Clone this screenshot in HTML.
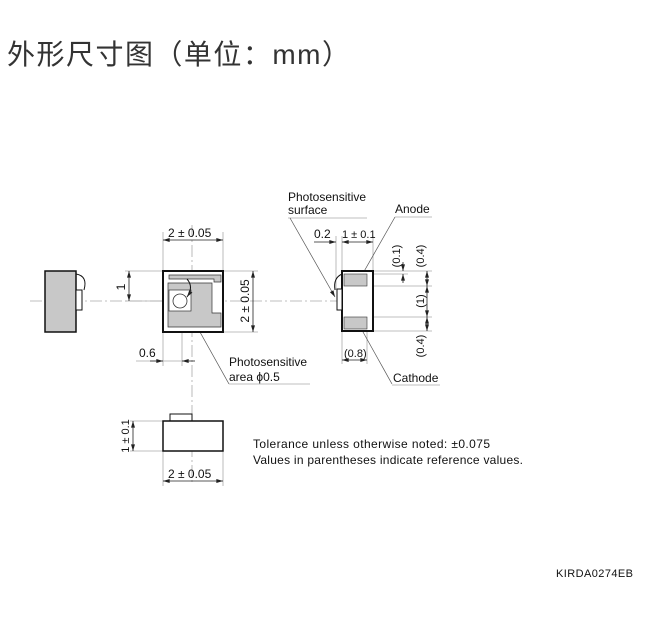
<!DOCTYPE html>
<html><head><meta charset="utf-8"><style>
body{margin:0;background:#fff;width:662px;height:625px;overflow:hidden}
svg{position:absolute;left:0;top:0}
text{font-family:"Liberation Sans",sans-serif;fill:#111}
</style></head><body>
<svg width="662" height="625" viewBox="0 0 662 625">
<defs>
<marker id="a" viewBox="0 0 10 6" refX="10" refY="3" markerWidth="7" markerHeight="4" orient="auto-start-reverse" markerUnits="userSpaceOnUse"><path d="M0,0L10,3L0,6z" fill="#222"/></marker>
</defs>
<text x="7" y="64" style="font-family:'Liberation Sans','Noto Sans CJK SC',sans-serif;font-size:28px;fill:#333" textLength="343">外形尺寸图（单位：mm）</text>

<g stroke="#aaa" stroke-width="0.8" fill="none">
<line x1="30" y1="301" x2="340" y2="301" stroke-dasharray="12,3,2,3"/>
<line x1="192" y1="225" x2="192" y2="485" stroke-dasharray="12,3,2,3"/>
<!-- extension lines -->
<line x1="163" y1="232" x2="163" y2="271"/><line x1="223" y1="232" x2="223" y2="271"/>
<line x1="125" y1="271" x2="163" y2="271"/><line x1="125" y1="301" x2="163" y2="301"/>
<line x1="223" y1="271" x2="258" y2="271"/><line x1="223" y1="332" x2="258" y2="332"/>
<line x1="163" y1="332" x2="163" y2="366"/><line x1="182" y1="313" x2="182" y2="366"/>
<line x1="130" y1="421" x2="163" y2="421"/><line x1="130" y1="451" x2="163" y2="451"/>
<line x1="163" y1="451" x2="163" y2="486"/><line x1="223" y1="451" x2="223" y2="486"/>
<line x1="336" y1="236" x2="336" y2="290"/><line x1="342" y1="236" x2="342" y2="271"/><line x1="373" y1="236" x2="373" y2="271"/>
<line x1="373" y1="271" x2="432" y2="271"/><line x1="367" y1="274" x2="408" y2="274"/><line x1="367" y1="286" x2="432" y2="286"/>
<line x1="367" y1="317" x2="432" y2="317"/><line x1="373" y1="331" x2="432" y2="331"/>
<line x1="342" y1="331" x2="342" y2="364"/><line x1="367" y1="329" x2="367" y2="364"/>
<line x1="288" y1="218" x2="367" y2="218"/><line x1="395" y1="217" x2="432" y2="217"/>
<line x1="229" y1="384" x2="310" y2="384"/><line x1="392" y1="385" x2="440" y2="385"/>
<line x1="136" y1="361" x2="182" y2="361"/>
</g>
<!-- leaders -->
<g stroke="#555" stroke-width="0.7" fill="none">
<line x1="290" y1="218" x2="335" y2="297" marker-end="url(#a)"/>
<line x1="395" y1="217" x2="358" y2="282" marker-end="url(#a)"/>
<line x1="392" y1="384" x2="358" y2="323" marker-end="url(#a)"/>
<line x1="229" y1="384" x2="186" y2="307" marker-end="url(#a)"/>
</g>
<!-- dim lines -->
<g stroke="#222" stroke-width="0.8" fill="none">
<line x1="163" y1="240" x2="223" y2="240" marker-start="url(#a)" marker-end="url(#a)"/>
<line x1="129" y1="271" x2="129" y2="301" marker-start="url(#a)" marker-end="url(#a)"/>
<line x1="253" y1="271" x2="253" y2="332" marker-start="url(#a)" marker-end="url(#a)"/>
<line x1="150" y1="361" x2="163" y2="361" marker-end="url(#a)"/>
<line x1="195" y1="361" x2="182" y2="361" marker-end="url(#a)"/>
<line x1="133" y1="421" x2="133" y2="451" marker-start="url(#a)" marker-end="url(#a)"/>
<line x1="163" y1="481" x2="223" y2="481" marker-start="url(#a)" marker-end="url(#a)"/>
<line x1="314" y1="242" x2="336" y2="242" marker-end="url(#a)"/>
<line x1="342" y1="242" x2="373" y2="242" marker-start="url(#a)" marker-end="url(#a)"/>
<line x1="403" y1="262" x2="403" y2="271" marker-end="url(#a)"/>
<line x1="403" y1="283" x2="403" y2="274" marker-end="url(#a)"/>
<line x1="427" y1="271" x2="427" y2="286" marker-start="url(#a)" marker-end="url(#a)"/>
<line x1="427" y1="286" x2="427" y2="317" marker-start="url(#a)" marker-end="url(#a)"/>
<line x1="427" y1="317" x2="427" y2="331" marker-start="url(#a)" marker-end="url(#a)"/>
<line x1="342" y1="360" x2="367" y2="360" marker-start="url(#a)" marker-end="url(#a)"/>
</g>

<!-- left side view -->
<rect x="45" y="271" width="31" height="61" fill="#c8c8c8" stroke="#111" stroke-width="1.5"/>
<rect x="76" y="290" width="6" height="20" fill="#fff" stroke="#111" stroke-width="1"/>
<path d="M76,274 Q88,276 84,290" fill="none" stroke="#111" stroke-width="1"/>

<!-- top view -->
<rect x="163" y="271" width="60" height="61" fill="#fff" stroke="#111" stroke-width="2"/>
<path d="M169,275 H221 V282 H214 V279 H169 Z" fill="#c8c8c8" stroke="#333" stroke-width="0.7"/>
<path d="M168,283 H212 V313 H221 V327 H168 Z" fill="#c8c8c8" stroke="#333" stroke-width="0.7"/>
<rect x="169" y="290" width="22" height="21" fill="#fff" stroke="#333" stroke-width="0.7"/>
<circle cx="180" cy="301" r="7" fill="#fff" stroke="#333" stroke-width="0.8"/>
<path d="M187,279 Q194,287 187,297" fill="none" stroke="#111" stroke-width="1" marker-end="url(#a)"/>

<!-- right side view -->
<rect x="342" y="271" width="31" height="60" fill="#fff" stroke="#111" stroke-width="2"/>
<rect x="344" y="274" width="23" height="12" fill="#c8c8c8" stroke="#333" stroke-width="0.6"/>
<rect x="344" y="317" width="23" height="12" fill="#c8c8c8" stroke="#333" stroke-width="0.6"/>
<rect x="337" y="289" width="5" height="21" fill="#fff" stroke="#111" stroke-width="1"/>
<path d="M342,274 Q333,278 335,290" fill="none" stroke="#111" stroke-width="1"/>

<!-- bottom view -->
<rect x="170" y="414" width="22" height="7" fill="#fff" stroke="#111" stroke-width="1"/>
<rect x="163" y="421" width="60" height="30" fill="#fff" stroke="#111" stroke-width="1.5"/>

<g font-size="12">
<text x="168" y="237">2 ± 0.05</text>
<text x="125" y="287" transform="rotate(-90 125 287)" text-anchor="middle">1</text>
<text x="249" y="301" transform="rotate(-90 249 301)" text-anchor="middle">2 ± 0.05</text>
<text x="139" y="357">0.6</text>
<text x="229" y="366">Photosensitive</text>
<text x="229" y="381">area ϕ0.5</text>
<text x="129" y="436" transform="rotate(-90 129 436)" text-anchor="middle" font-size="11">1 ± 0.1</text>
<text x="168" y="478">2 ± 0.05</text>
<text x="288" y="201">Photosensitive</text>
<text x="288" y="214">surface</text>
<text x="395" y="213">Anode</text>
<text x="314" y="238">0.2</text>
<text x="342" y="238" font-size="11">1 ± 0.1</text>
<text x="400" y="256" transform="rotate(-90 400 256)" text-anchor="middle" font-size="11">(0.1)</text>
<text x="424" y="256" transform="rotate(-90 424 256)" text-anchor="middle" font-size="11">(0.4)</text>
<text x="424" y="301" transform="rotate(-90 424 301)" text-anchor="middle" font-size="11">(1)</text>
<text x="424" y="346" transform="rotate(-90 424 346)" text-anchor="middle" font-size="11">(0.4)</text>
<text x="344" y="357" font-size="11">(0.8)</text>
<text x="393" y="382">Cathode</text>
<text x="253" y="448" textLength="237">Tolerance unless otherwise noted: ±0.075</text>
<text x="253" y="464" textLength="270">Values in parentheses indicate reference values.</text>
<text x="556" y="577" font-size="11" textLength="77">KIRDA0274EB</text>
</g>
</svg>
</body></html>
